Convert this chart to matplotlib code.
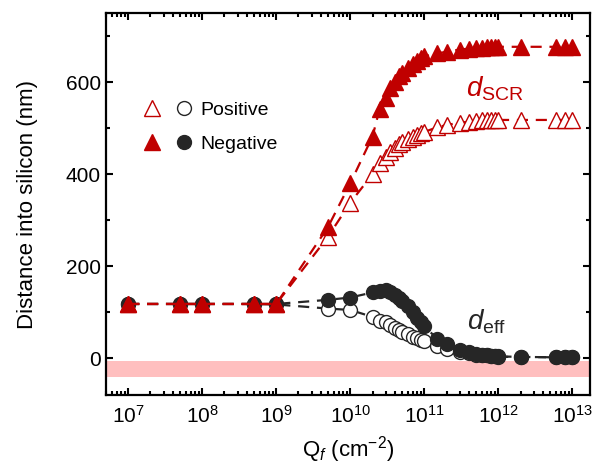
import matplotlib
matplotlib.use('Agg')
import matplotlib.pyplot as plt
from matplotlib.legend_handler import HandlerTuple
from matplotlib.lines import Line2D
import matplotlib.ticker as mticker
import numpy as np

plt.rcParams['font.family'] = ['Liberation Sans', 'DejaVu Sans']
plt.rcParams['mathtext.fontset'] = 'custom'
plt.rcParams['mathtext.rm'] = 'Liberation Sans'
plt.rcParams['mathtext.it'] = 'Liberation Sans:italic'
plt.rcParams['mathtext.bf'] = 'Liberation Sans:bold'

C_RED = '#C00000'
C_DARK = '#262626'
C_BAND = '#FFBFBF'

# fixed charge density (cm^-2)
qf = [1e7, 5e7, 1e8, 5e8, 1e9, 5e9, 1e10, 2e10, 2.5e10, 3e10, 3.5e10, 4e10,
      4.5e10, 5e10, 6e10, 7e10, 8e10, 9e10, 1e11, 1.5e11, 2e11, 3e11, 4e11,
      5e11, 6e11, 7e11, 8e11, 9e11, 1e12, 2e12, 6e12, 8e12, 1e13]

# space-charge-region width (nm)
dscr_pos = [118, 118, 118, 118, 118, 264, 338, 400, 424, 437, 448, 457,
            465, 470, 477, 482, 486, 489, 492, 502, 507, 512, 514,
            516, 517, 517, 518, 518, 518, 518, 518, 518, 518]
dscr_neg = [118, 118, 118, 118, 118, 285, 380, 482, 542, 565, 588, 601,
            614, 620, 630, 640, 646, 652, 656, 663, 666, 671, 673,
            674, 675, 676, 676, 676, 677, 677, 677, 677, 677]

# effective depth (nm)
deff_pos = [118, 118, 118, 118, 117, 108, 105, 90, 82, 78, 72, 66,
            61, 57, 52, 47, 43, 40, 37, 27, 21, 14, 11,
            8, 7, 6, 5, 4, 3, 3, 2, 2, 2]
deff_neg = [118, 118, 118, 118, 118, 127, 132, 143, 147, 148, 144, 138,
            131, 125, 113, 101, 88, 78, 70, 42, 31, 18, 13,
            10, 8, 6, 5, 4, 4, 3, 2, 2, 2]

band = (-40, -5)
x_major = [1e7, 1e8, 1e9, 1e10, 1e11, 1e12, 1e13]

fig = plt.figure(figsize=(5.95, 4.72), dpi=100)
ax = fig.add_axes([0.178, 0.163, 0.814, 0.809])

ax.axhspan(band[0], band[1], color=C_BAND, lw=0, zorder=0)

dash = dict(ls='--', dashes=(5, 3.5), lw=1.6)
ax.plot(qf, deff_pos, color=C_DARK, marker='o', ms=10, mfc='white', mec=C_DARK,
        mew=1.0, zorder=2, **dash)
ax.plot(qf, deff_neg, color=C_DARK, marker='o', ms=10, mfc=C_DARK, mec=C_DARK,
        mew=1.0, zorder=3, **dash)
ax.plot(qf, dscr_pos, color=C_RED, marker='^', ms=11, mfc='white', mec=C_RED,
        mew=1.0, zorder=4, **dash)
ax.plot(qf, dscr_neg, color=C_RED, marker='^', ms=11, mfc=C_RED, mec=C_RED,
        mew=1.0, zorder=5, **dash)

ax.set_xscale('log')
ax.set_xlim(5e6, 1.75e13)
ax.set_ylim(-80, 750)
ax.xaxis.set_major_locator(mticker.FixedLocator(x_major))
ax.xaxis.set_major_formatter(mticker.LogFormatterSciNotation())
ax.xaxis.set_minor_locator(mticker.LogLocator(base=10, subs=np.arange(2, 10), numticks=20))
ax.xaxis.set_minor_formatter(mticker.NullFormatter())
ax.yaxis.set_major_locator(mticker.MultipleLocator(200))
ax.yaxis.set_minor_locator(mticker.MultipleLocator(100))

ax.tick_params(which='both', direction='in', top=True, right=True, width=1.5,
               labelsize=15)
ax.tick_params(which='major', length=5)
ax.tick_params(which='minor', length=3)
ax.tick_params(axis='x', which='major', pad=7)
for s in ax.spines.values():
    s.set_linewidth(1.6)

ax.set_xlabel(r'Q$_{\it f}$ (cm$^{-2}$)', fontsize=16, labelpad=5)
ax.set_ylabel('Distance into silicon (nm)', fontsize=16, labelpad=20)

ax.text(9e11, 585, r'$d_{\mathrm{SCR}}$', color=C_RED, fontsize=20,
        ha='center', va='center')
ax.text(7e11, 80, r'$d_{\mathrm{eff}}$', color=C_DARK, fontsize=20,
        ha='center', va='center')

h_pos = (Line2D([], [], ls='none', marker='^', ms=11, mfc='white', mec=C_RED),
         Line2D([], [], ls='none', marker='o', ms=10, mfc='white', mec=C_DARK))
h_neg = (Line2D([], [], ls='none', marker='^', ms=11, mfc=C_RED, mec=C_RED),
         Line2D([], [], ls='none', marker='o', ms=10, mfc=C_DARK, mec=C_DARK))
ax.legend([h_pos, h_neg], ['Positive', 'Negative'],
          handler_map={tuple: HandlerTuple(ndivide=None, pad=1.0)},
          loc='upper left', bbox_to_anchor=(0.045, 0.815), frameon=False,
          fontsize=14, handlelength=2.3, handletextpad=0.55, labelspacing=0.85)

fig.savefig('out.png', dpi=100)
